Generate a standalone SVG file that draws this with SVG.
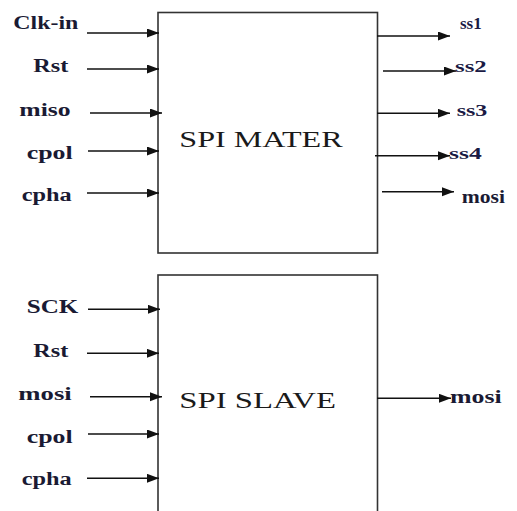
<svg xmlns="http://www.w3.org/2000/svg" width="517" height="511" viewBox="0 0 517 511">
<defs>
<marker id="arr" markerUnits="userSpaceOnUse" markerWidth="14" markerHeight="10" refX="12" refY="4.5" orient="auto">
<path d="M0,0 L12,4.5 L0,9 z" fill="#111"/>
</marker>
<style>
.box{fill:#fff;stroke:#333;stroke-width:1.6}
.w{stroke:#111;stroke-width:1.4;fill:none;marker-end:url(#arr)}
text{font-family:'Liberation Serif','DejaVu Serif','Times New Roman',serif}
.lbl{font-size:18px;fill:#1a1a33;font-weight:bold}
.sl{font-size:17px;fill:#1a1a44;font-weight:bold}
.title{font-size:23px;fill:#1a1a1a}
</style>
</defs>
<rect width="517" height="511" fill="#fff"/>
<g id="master">
<rect class="box" x="158" y="12.5" width="219.5" height="240.5"/>
<text class="title" x="179.3" y="147.3" textLength="163.4" lengthAdjust="spacingAndGlyphs" font-family="Liberation Serif, DejaVu Serif, serif">SPI MATER</text>
</g>
<g id="slave">
<rect class="box" x="158" y="275" width="219.5" height="245"/>
<text class="title" x="179.3" y="408.3" textLength="156.7" lengthAdjust="spacingAndGlyphs" font-family="Liberation Serif, DejaVu Serif, serif">SPI SLAVE</text>
</g>
<g id="connectors">
<path class="w" d="M87,33 H159"/>
<path class="w" d="M87,69 H159"/>
<path class="w" d="M90,113 H162"/>
<path class="w" d="M88,151 H159"/>
<path class="w" d="M87,193 H159"/>
<path class="w" d="M377,36 H450"/>
<path class="w" d="M383,71 H456"/>
<path class="w" d="M377,113.3 H450"/>
<path class="w" d="M375,155.7 H450"/>
<path class="w" d="M382,191.7 H454"/>
<path class="w" d="M88,309.3 H160"/>
<path class="w" d="M87,353.3 H159"/>
<path class="w" d="M90,396.7 H162"/>
<path class="w" d="M88,434 H159"/>
<path class="w" d="M87,478.3 H159"/>
<path class="w" d="M377,398.3 H451"/>
</g>
<g id="labels" font-family="Liberation Serif, DejaVu Serif, serif">
<text class="lbl" x="13.3" y="29" textLength="65" lengthAdjust="spacingAndGlyphs">Clk-in</text>
<text class="lbl" x="33.3" y="71.5" textLength="35" lengthAdjust="spacingAndGlyphs">Rst</text>
<text class="lbl" x="19.3" y="115.5" textLength="51.4" lengthAdjust="spacingAndGlyphs">miso</text>
<text class="lbl" x="26.7" y="159" textLength="46" lengthAdjust="spacingAndGlyphs">cpol</text>
<text class="lbl" x="21.7" y="201" textLength="50" lengthAdjust="spacingAndGlyphs">cpha</text>
<text class="sl" x="460" y="28.5" textLength="21.7" lengthAdjust="spacingAndGlyphs">ss1</text>
<text class="sl" x="455" y="72" textLength="31.7" lengthAdjust="spacingAndGlyphs">ss2</text>
<text class="sl" x="456.7" y="116" textLength="30.6" lengthAdjust="spacingAndGlyphs">ss3</text>
<text class="sl" x="449" y="158.5" textLength="32.7" lengthAdjust="spacingAndGlyphs">ss4</text>
<text class="lbl" x="461.7" y="203" textLength="43.3" lengthAdjust="spacingAndGlyphs">mosi</text>
<text class="lbl" x="26.7" y="312.5" textLength="51.6" lengthAdjust="spacingAndGlyphs">SCK</text>
<text class="lbl" x="33.3" y="357" textLength="35" lengthAdjust="spacingAndGlyphs">Rst</text>
<text class="lbl" x="18.3" y="399.5" textLength="53.4" lengthAdjust="spacingAndGlyphs">mosi</text>
<text class="lbl" x="26.7" y="443" textLength="46" lengthAdjust="spacingAndGlyphs">cpol</text>
<text class="lbl" x="21.7" y="485" textLength="50" lengthAdjust="spacingAndGlyphs">cpha</text>
<text class="lbl" x="450" y="402.7" textLength="51.7" lengthAdjust="spacingAndGlyphs">mosi</text>
</g>
</svg>
